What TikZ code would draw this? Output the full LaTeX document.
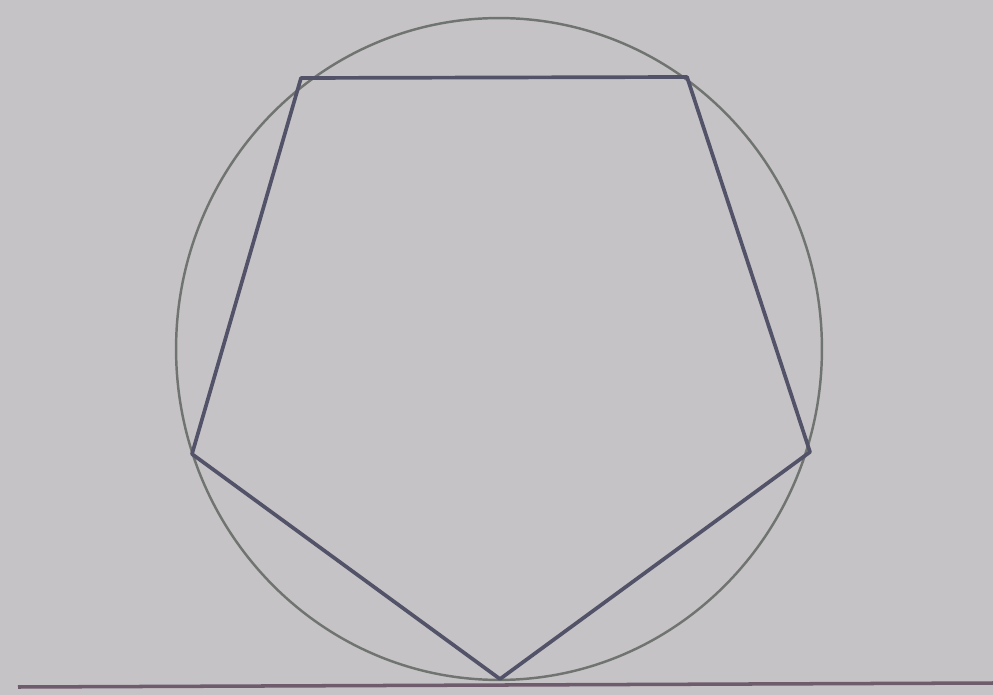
\documentclass[tikz,border=0pt]{standalone}
\definecolor{bg}{RGB}{198,195,198}
\definecolor{circ}{RGB}{112,116,112}
\definecolor{pent}{RGB}{82,82,104}
\definecolor{base}{RGB}{110,92,108}
\begin{document}
\begin{tikzpicture}[x=0.02cm,y=-0.02cm,
  circline/.style={draw=circ,line width=1.4pt},
  pentline/.style={draw=pent,line width=2.1pt,line join=round},
  baseline/.style={draw=base,line width=2pt}]
\fill[bg] (0,0) rectangle (993,695);
\useasboundingbox (0,0) rectangle (993,695);
\coordinate (O) at (499,349);
\draw[circline] (O) ellipse[x radius=6.46cm, y radius=6.62cm];
\coordinate (A) at (500,679);
\coordinate (B) at (192,454);
\coordinate (C) at (301,78);
\coordinate (D) at (687,77);
\coordinate (E) at (810,452);
\draw[pentline] (A) -- (B) -- (C) -- (D) -- (E) -- cycle;
\coordinate (L) at (18,687);
\coordinate (R) at (993,683);
\draw[baseline] (L) -- (R);
\end{tikzpicture}
\end{document}
